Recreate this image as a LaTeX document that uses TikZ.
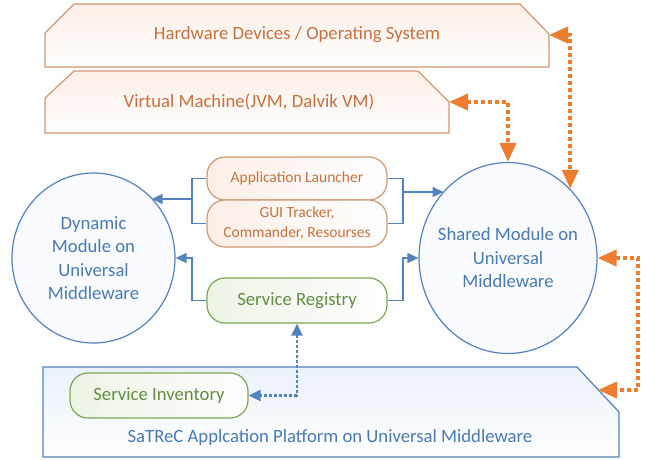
\documentclass[tikz,border=0pt]{standalone}
\usepackage{fontspec}
\setmainfont{Carlito}
\usepackage{xcolor}
\usepackage{tikz}
\usetikzlibrary{shapes.geometric}
\usetikzlibrary{arrows.meta}
\definecolor{ortext}{RGB}{197,114,64}
\definecolor{orline}{RGB}{206,152,114}
\definecolor{orfill}{RGB}{252,238,230}
\definecolor{orarr}{RGB}{237,125,49}
\definecolor{bltext}{RGB}{72,122,180}
\definecolor{blline}{RGB}{84,130,188}
\definecolor{blfill}{RGB}{234,241,250}
\definecolor{grtext}{RGB}{98,140,66}
\definecolor{grline}{RGB}{124,168,84}
\definecolor{grfill}{RGB}{236,244,229}
\tikzset{
    layerbox/.style = {draw=orline, line width=1.2pt, top color=orfill, bottom color=white},
    platbox/.style = {draw=blline, line width=1.2pt, top color=blfill, bottom color=white},
    modnode/.style = {ellipse, draw=blline, line width=1.2pt, fill={rgb,255:red,249;green,251;blue,254}, align=center, text=bltext, inner sep=0pt},
    appbox/.style = {rectangle, rounded corners=18pt, draw=orline, line width=1.2pt, left color=orfill, right color=white, text=ortext, minimum width=180pt, align=center, font=\fontsize{15.5}{20}\selectfont},
    regbox/.style = {rectangle, rounded corners=18pt, draw=grline, line width=1.2pt, left color=grfill, right color=white, text=grtext, minimum width=180pt, minimum height=45pt},
}
\begin{document}
\begin{tikzpicture}[
	x=1pt, y=-1pt,
	font=\fontsize{18.7}{23.5}\selectfont
]
\tikzset{
    bline/.style = {draw=blline, line width=1.6pt},
    barrow/.style = {bline, -{Triangle[length=11pt,width=10pt]}},
    bdots/.style = {draw=blline, line width=2.2pt, dash pattern=on 3pt off 2pt, {Triangle[length=12pt,width=11pt]}-{Triangle[length=12pt,width=11pt]}},
    oarrow/.style = {draw=orarr, line width=3.8pt, dash pattern=on 4pt off 3pt, {Triangle[length=19pt,width=16pt]}-{Triangle[length=19pt,width=16pt]}},
}
\useasboundingbox (0,0) rectangle (645,459);
%
\draw[layerbox] (74,4) -- (520,4) -- (549,34) -- (549,67) -- (45,67) -- (45,33) -- cycle;
\draw[layerbox] (74,71) -- (418,71) -- (449,102) -- (449,133) -- (45,133) -- (45,98) -- cycle;
\draw[platbox] (43,367) -- (577,367) -- (619,412) -- (619,457) -- (43,457) -- cycle;
\node[text=ortext] at (297,35) (hw) {Hardware Devices / Operating System};
\node[text=ortext] at (249,102) (vm) {Virtual Machine(JVM, Dalvik VM)};
\node[text=bltext] at (330,438) (plat) {SaTReC Applcation Platform on Universal Middleware};
\coordinate (hwc) at (549,35);
\coordinate (vmc) at (449,102);
\coordinate (platc) at (598,390);
%
\node[modnode, minimum width=163pt, minimum height=170pt] at (93.5,258) (dyn) {Dynamic\\Module on\\Universal\\Middleware};
\node[modnode, inner xsep=-8pt, minimum width=178pt, minimum height=191pt] at (508,258) (shr) {Shared Module on\\Universal\\Middleware};
%
\node[appbox, minimum height=43pt] at (297,178.5) (app) {Application Launcher};
\node[appbox, minimum height=47pt] at (297,223.5) (gui) {GUI Tracker,\\Commander, Resourses};
\node[regbox] at (297,300.5) (reg) {Service Registry};
\node[regbox, minimum width=178pt] at (159,395.5) (inv) {Service Inventory};
%
\coordinate (lb) at (192,199);
\coordinate (rb) at (403,192);
\coordinate (lc) at (192,258);
\coordinate (rc) at (403,258);
\draw[bline] (app.west) -| (lb) |- (gui.west);
\draw[barrow] (lb) -- (dyn.46 |- lb);
\draw[bline] (app.east) -| (rb) |- (gui.east);
\draw[barrow] (rb) -- (shr.134 |- rb);
\draw[barrow] (reg.west) -| (lc) -- (dyn.east);
\draw[barrow] (reg.east) -| (rc) -- (shr.west);
%
\draw[oarrow] (hwc) -| (shr.48);
\draw[oarrow] (vmc) -| (shr.north);
\draw[oarrow] (shr.east) -- ++(40,0) |- (platc);
\draw[bdots] (reg.south) |- (inv.east);
\end{tikzpicture}
\end{document}
